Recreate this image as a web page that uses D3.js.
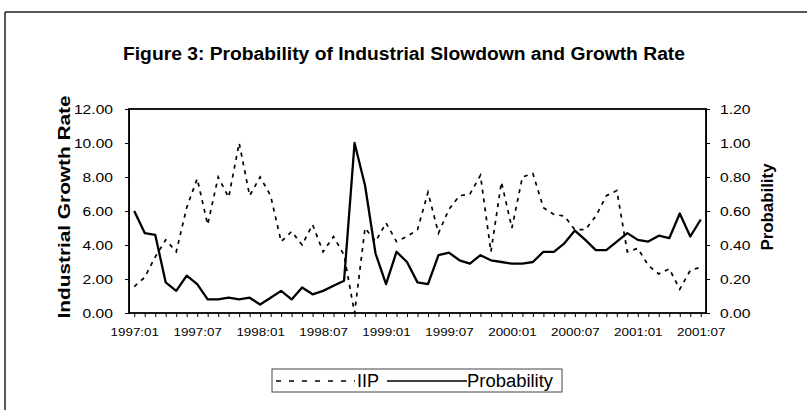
<!DOCTYPE html>
<html>
<head>
<meta charset="utf-8">
<script src="https://cdn.jsdelivr.net/npm/d3@7"></script>
<style>
  body { margin: 0; background: #fff; }
  svg { font-family: "Liberation Sans", Arial, sans-serif; display: block; }
  .axis path, .axis line { stroke: #000; }
  .axis text { fill: #000; }
</style>
</head>
<body>
<svg width="807" height="410"></svg>
<script>
// monthly categories 1997:01 .. 2001:07
const months = [];
for (let y = 1997; y <= 2001; y++) {
  for (let m = 1; m <= 12; m++) {
    if (y === 2001 && m > 7) break;
    months.push(y + ':' + String(m).padStart(2, '0'));
  }
}
const tickLabels = ['1997:01','1997:07','1998:01','1998:07','1999:01','1999:07','2000:01','2000:07','2001:01','2001:07'];
const leftTicks = [0, 2, 4, 6, 8, 10, 12];
const rightTicks = [0, 0.2, 0.4, 0.6, 0.8, 1.0, 1.2];

// IIP growth rate (left axis)
const iip = [1.55, 2.1, 3.3, 4.3, 3.6, 6.2, 7.9, 5.2, 8.0, 6.8, 10.0, 6.9,
             8.0, 6.9, 4.2, 4.8, 4.0, 5.2, 3.6, 4.5, 3.4, 0.0, 5.0, 4.2,
             5.3, 4.2, 4.5, 4.9, 7.1, 4.7, 6.1, 6.9, 7.0, 8.1, 3.6, 7.7,
             5.0, 8.0, 8.2, 6.2, 5.8, 5.7, 4.9, 4.9, 5.7, 6.9, 7.2, 3.6,
             3.8, 2.8, 2.3, 2.6, 1.4, 2.5, 2.7];
// probability of slowdown (right axis)
const prob = [0.60, 0.47, 0.46, 0.18, 0.13, 0.22, 0.17, 0.08, 0.08, 0.09, 0.08, 0.09,
              0.05, 0.09, 0.13, 0.08, 0.15, 0.11, 0.13, 0.16, 0.19, 1.00, 0.75, 0.35,
              0.17, 0.36, 0.30, 0.18, 0.17, 0.34, 0.355, 0.31, 0.29, 0.34, 0.31, 0.30,
              0.29, 0.29, 0.30, 0.36, 0.36, 0.41, 0.485, 0.43, 0.37, 0.37, 0.42, 0.47,
              0.43, 0.42, 0.455, 0.44, 0.585, 0.45, 0.55];

const svg = d3.select('svg');
const plotL = 129, plotR = 706, plotT = 109, plotB = 313;

// stretch text horizontally a bit, like the scanned original
function widen(sel, k) {
  sel.each(function () {
    const w = this.getComputedTextLength();
    d3.select(this).attr('textLength', w * k).attr('lengthAdjust', 'spacingAndGlyphs');
  });
}

// page frame (scanned figure border)
svg.append('line').attr('x1', 5).attr('x2', 807).attr('y1', 12).attr('y2', 12)
  .attr('stroke', '#222').attr('stroke-width', 1.5);
svg.append('line').attr('x1', 5).attr('x2', 5).attr('y1', 12).attr('y2', 410)
  .attr('stroke', '#222').attr('stroke-width', 1.5);

svg.append('text')
  .attr('x', 404).attr('y', 60)
  .attr('text-anchor', 'middle')
  .attr('font-size', 18).attr('font-weight', 'bold')
  .attr('textLength', 562).attr('lengthAdjust', 'spacingAndGlyphs')
  .text('Figure 3: Probability of Industrial Slowdown and Growth Rate');

const x = d3.scalePoint().domain(months).range([plotL, plotR]).padding(0.5);
const yL = d3.scaleLinear().domain([0, 12]).range([plotB, plotT]);
const yR = d3.scaleLinear().domain([0, 1.2]).range([plotB, plotT]);

// plot frame
svg.append('rect')
  .attr('x', plotL).attr('y', plotT)
  .attr('width', plotR - plotL).attr('height', plotB - plotT)
  .attr('fill', 'none').attr('stroke', '#000').attr('stroke-width', 1.8);

svg.append('g').attr('class', 'axis')
  .attr('transform', `translate(${plotL},0)`)
  .call(d3.axisLeft(yL).tickValues(leftTicks).tickFormat(d3.format('.2f')).tickSize(4).tickPadding(12))
  .call(g => g.selectAll('text').attr('font-size', 12.5).call(widen, 1.25));

svg.append('g').attr('class', 'axis')
  .attr('transform', `translate(${plotR},0)`)
  .call(d3.axisRight(yR).tickValues(rightTicks).tickFormat(d3.format('.2f')).tickSize(4).tickPadding(10))
  .call(g => g.selectAll('text').attr('font-size', 12.5).call(widen, 1.25));

svg.append('g').attr('class', 'axis')
  .attr('transform', `translate(0,${plotB})`)
  .call(d3.axisBottom(x).tickValues(months)
    .tickFormat(d => tickLabels.includes(d) ? d : '')
    .tickSize(4).tickSizeOuter(0).tickPadding(11))
  .call(g => g.select('.domain').remove())
  .call(g => g.selectAll('text').attr('font-size', 11).call(widen, 1.22));

svg.append('text')
  .attr('transform', 'translate(70,207) rotate(-90)')
  .attr('text-anchor', 'middle')
  .attr('font-size', 17).attr('font-weight', 'bold')
  .attr('textLength', 223).attr('lengthAdjust', 'spacingAndGlyphs')
  .text('Industrial Growth Rate');

svg.append('text')
  .attr('transform', 'translate(773,207) rotate(-90)')
  .attr('text-anchor', 'middle')
  .attr('font-size', 16).attr('font-weight', 'bold')
  .attr('textLength', 87).attr('lengthAdjust', 'spacingAndGlyphs')
  .text('Probability');

const lineL = d3.line().x((d, i) => x(months[i])).y(d => yL(d));
const lineR = d3.line().x((d, i) => x(months[i])).y(d => yR(d));

svg.append('path').datum(iip)
  .attr('d', lineL).attr('fill', 'none')
  .attr('stroke', '#000').attr('stroke-width', 1.7)
  .attr('stroke-dasharray', '4,5');

svg.append('path').datum(prob)
  .attr('d', lineR).attr('fill', 'none')
  .attr('stroke', '#000').attr('stroke-width', 2.3)
  .attr('stroke-linejoin', 'round');

// legend
const lg = svg.append('g');
lg.append('rect').attr('x', 272).attr('y', 369).attr('width', 290).attr('height', 23)
  .attr('fill', 'none').attr('stroke', '#444').attr('stroke-width', 1);
lg.append('line').attr('x1', 276).attr('x2', 355).attr('y1', 381).attr('y2', 381)
  .attr('stroke', '#000').attr('stroke-width', 1.5).attr('stroke-dasharray', '5,8');
lg.append('text').attr('x', 357).attr('y', 387).attr('font-size', 18).text('IIP');
lg.append('line').attr('x1', 387).attr('x2', 467).attr('y1', 381).attr('y2', 381)
  .attr('stroke', '#000').attr('stroke-width', 1.5);
lg.append('text').attr('x', 467).attr('y', 387).attr('font-size', 18)
  .attr('textLength', 86).attr('lengthAdjust', 'spacingAndGlyphs').text('Probability');
</script>
</body>
</html>
